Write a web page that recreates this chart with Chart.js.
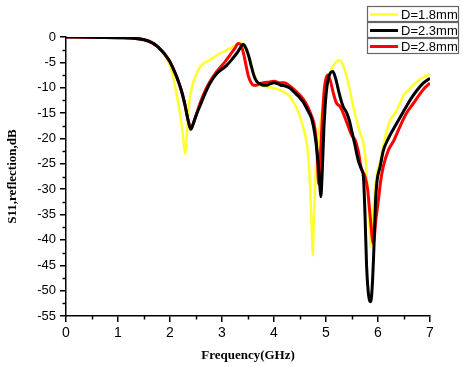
<!DOCTYPE html>
<html>
<head>
<meta charset="utf-8">
<script src="https://cdn.jsdelivr.net/npm/chart.js@4.4.1/dist/chart.umd.min.js"></script>
<style>
  html, body { margin: 0; padding: 0; background: #fff; }
  #wrap { width: 463px; height: 367px; position: relative; }
</style>
</head>
<body>
<div id="wrap"><canvas id="c" width="463" height="367"></canvas></div>
<script>
// ---------- DATA ----------
const seriesLabels = ["D=1.8mm", "D=2.3mm", "D=2.8mm"];

const freq18 = [0, 0.5, 1.0, 1.3, 1.5, 1.65, 1.77, 1.87, 1.97, 2.05, 2.13, 2.19, 2.24, 2.29, 2.33, 2.37, 2.42, 2.5, 2.58, 2.68, 2.77, 2.9, 3.09, 3.2, 3.3, 3.37, 3.43, 3.5, 3.56, 3.62, 3.7, 3.8, 3.92, 4.05, 4.18, 4.31, 4.4, 4.5, 4.58, 4.63, 4.67, 4.7, 4.73, 4.745, 4.765, 4.8, 4.85, 4.92, 5.0, 5.08, 5.17, 5.27, 5.36, 5.46, 5.53, 5.59, 5.65, 5.72, 5.77, 5.81, 5.84, 5.86, 5.89, 5.94, 6.0, 6.04, 6.1, 6.17, 6.23, 6.36, 6.49, 6.6, 6.7, 6.8, 6.9, 7.0];
const s11_18 = [0, -0.05, -0.15, -0.25, -0.55, -1.1, -1.9, -3.0, -4.9, -7.4, -11.5, -15, -18.5, -23, -18.5, -13, -10, -7.5, -5.9, -5, -4.5, -3.6, -2.6, -2, -1.4, -1.2, -1.8, -3.5, -5.5, -7.5, -9.2, -9.7, -9.9, -10.2, -10.8, -11.8, -13.3, -15.7, -18.5, -21, -25, -31, -39, -43, -36, -27, -20, -15, -10.2, -7, -5.2, -4.6, -6.5, -10.5, -14, -16.4, -18.8, -21, -25, -32, -38, -41.4, -38, -30, -26, -24.5, -21.5, -18.5, -16.5, -14.5, -11.5, -10.3, -9.3, -8.4, -7.8, -7.3];

const freq23 = [0, 0.5, 1.0, 1.3, 1.5, 1.65, 1.75, 1.85, 1.93, 2.0, 2.06, 2.13, 2.22, 2.29, 2.35, 2.40, 2.45, 2.5, 2.58, 2.68, 2.77, 2.9, 3.09, 3.2, 3.3, 3.41, 3.46, 3.52, 3.57, 3.62, 3.67, 3.73, 3.8, 3.87, 3.93, 4.0, 4.07, 4.13, 4.2, 4.31, 4.4, 4.48, 4.56, 4.65, 4.72, 4.76, 4.81, 4.85, 4.88, 4.9, 4.93, 4.96, 5.0, 5.05, 5.13, 5.18, 5.24, 5.29, 5.33, 5.4, 5.45, 5.49, 5.55, 5.62, 5.68, 5.72, 5.75, 5.78, 5.81, 5.84, 5.86, 5.89, 5.92, 5.95, 5.98, 6.04, 6.1, 6.2, 6.36, 6.5, 6.62, 6.75, 6.87, 7.0];
const s11_23 = [0, -0.05, -0.15, -0.25, -0.55, -1.1, -1.8, -2.8, -3.8, -4.9, -6.2, -7.9, -10.6, -13.5, -16.5, -18.2, -17, -15.5, -13.5, -11, -9.1, -7.2, -5.6, -4.3, -3, -1.5, -2.2, -4, -6, -7.8, -8.8, -9.2, -9.5, -9.5, -9.2, -9.0, -9.2, -9.5, -9.6, -10.1, -11, -11.8, -12.8, -14.5, -16, -17.7, -21, -25, -29, -31.5, -26, -18, -11.5, -8, -6.8, -8, -10.5, -12.5, -13.7, -15, -16.5, -18.3, -21, -24.3, -26, -27.6, -35, -45, -50, -52, -52.2, -49, -42, -33, -28.5, -25.6, -22.5, -20, -17, -14.5, -12.4, -10.5, -9.1, -8.1];

const freq28 = [0, 0.5, 1.0, 1.3, 1.5, 1.65, 1.75, 1.85, 1.93, 2.0, 2.06, 2.13, 2.22, 2.29, 2.35, 2.40, 2.45, 2.5, 2.58, 2.68, 2.77, 2.9, 3.05, 3.15, 3.25, 3.31, 3.36, 3.42, 3.47, 3.51, 3.56, 3.6, 3.67, 3.73, 3.8, 3.9, 4.0, 4.1, 4.2, 4.31, 4.4, 4.5, 4.6, 4.7, 4.79, 4.83, 4.86, 4.89, 4.93, 4.97, 5.03, 5.08, 5.14, 5.2, 5.27, 5.35, 5.43, 5.5, 5.56, 5.62, 5.68, 5.75, 5.8, 5.85, 5.91, 5.96, 6.01, 6.05, 6.1, 6.2, 6.3, 6.42, 6.55, 6.68, 6.8, 6.9, 7.0];
const s11_28 = [0, -0.05, -0.15, -0.25, -0.55, -1.1, -1.8, -2.8, -3.8, -4.9, -6.2, -7.9, -10.6, -13.5, -16.5, -18, -17, -15.5, -13, -10.5, -8.8, -6.8, -5, -3.6, -2.2, -1.3, -1.5, -3.5, -6, -7.8, -9, -9.5, -9.5, -9.2, -9.0, -8.9, -8.7, -9.0, -9.0, -9.7, -10.5, -11.5, -12.8, -15, -18.3, -23, -29, -24, -16, -10, -7.5, -8.5, -11, -13, -13.7, -15.5, -17.7, -19.5, -20.3, -22.5, -26, -27.5, -30, -35.4, -40.7, -36, -32, -28.5, -25.6, -22.3, -20.5, -17.7, -15, -13.1, -11.3, -10, -9.1];

const xTicks = [0, 1, 2, 3, 4, 5, 6, 7];
const yTicks = [0, -5, -10, -15, -20, -25, -30, -35, -40, -45, -50, -55];
const xTitle = "Frequency(GHz)";
const yTitle = "S11,reflection,dB";

// ---------- BUILD ----------
const toPts = (xs, ys) => xs.map((x, i) => ({ x: x, y: ys[i] }));
const colors = ["#ffff2e", "#000000", "#ff0000"];
const widths = [2.5, 3, 3];
const orders = [2, 0, 1];
const series = [toPts(freq18, s11_18), toPts(freq23, s11_23), toPts(freq28, s11_28)];

const datasets = series.map((pts, i) => ({
  label: seriesLabels[i],
  data: pts,
  borderColor: colors[i],
  backgroundColor: colors[i],
  borderWidth: widths[i],
  pointRadius: 0,
  cubicInterpolationMode: 'monotone',
  fill: false,
  order: orders[i]
}));

const minorTicks = {
  id: 'minorTicks',
  afterDraw(chart) {
    const ctx = chart.ctx;
    const xs = chart.scales.x, ys = chart.scales.y;
    ctx.save();
    ctx.strokeStyle = '#000';
    ctx.lineWidth = 1.5;
    for (let i = 0; i < xTicks.length - 1; i++) {
      const v = (xTicks[i] + xTicks[i + 1]) / 2;
      const px = Math.round(xs.getPixelForValue(v)) + 0.5;
      ctx.beginPath();
      ctx.moveTo(px, ys.bottom);
      ctx.lineTo(px, ys.bottom + 3.5);
      ctx.stroke();
    }
    for (let i = 0; i < yTicks.length - 1; i++) {
      const v = (yTicks[i] + yTicks[i + 1]) / 2;
      const py = Math.round(ys.getPixelForValue(v)) + 0.5;
      ctx.beginPath();
      ctx.moveTo(xs.left, py);
      ctx.lineTo(xs.left - 3.5, py);
      ctx.stroke();
    }
    ctx.restore();
  }
};

const boxLegend = {
  id: 'boxLegend',
  afterDraw(chart) {
    const ctx = chart.ctx;
    ctx.save();
    const x0 = 367, y0 = 6, w = 91, h = 16;
    chart.data.datasets.forEach((ds, i) => {
      const y = y0 + i * h;
      ctx.fillStyle = '#fff';
      ctx.fillRect(x0, y, w, h);
      ctx.strokeStyle = '#666';
      ctx.lineWidth = 1.2;
      ctx.strokeRect(x0 + 0.5, y + 0.5, w, h - 1);
      ctx.strokeStyle = ds.borderColor;
      ctx.lineWidth = ds.borderWidth;
      ctx.beginPath();
      ctx.moveTo(x0 + 3, y + h / 2 + 0.5);
      ctx.lineTo(x0 + 31, y + h / 2 + 0.5);
      ctx.stroke();
      ctx.fillStyle = '#000';
      ctx.font = '13px "Liberation Sans", Arial, sans-serif';
      ctx.textBaseline = 'middle';
      ctx.textAlign = 'left';
      ctx.fillText(ds.label, x0 + 34, y + h / 2 + 1);
    });
    ctx.restore();
  }
};

new Chart(document.getElementById('c'), {
  type: 'line',
  data: { datasets: datasets },
  options: {
    responsive: false,
    animation: false,
    devicePixelRatio: 1,
    layout: { padding: { top: 37, right: 33, left: 0, bottom: 0 } },
    plugins: { legend: { display: false }, tooltip: { enabled: false } },
    scales: {
      x: {
        type: 'linear',
        min: 0, max: 7,
        afterFit(s) { s.height = 51; },
        afterBuildTicks(s) { s.ticks = xTicks.map(v => ({ value: v })); },
        ticks: {
          color: '#000',
          font: { family: '"Liberation Sans", Arial, sans-serif', size: 14 },
          padding: 3,
          maxRotation: 0,
          autoSkip: false
        },
        grid: { drawOnChartArea: false, drawTicks: true, tickLength: 6, color: '#000', lineWidth: 1.5 },
        border: { display: true, color: '#000', width: 1.5 },
        title: {
          display: true, text: xTitle, color: '#000',
          font: { family: '"Liberation Serif", "Times New Roman", serif', size: 13, weight: 'bold' },
          padding: { top: 0, bottom: 4 }
        }
      },
      y: {
        type: 'linear',
        min: -55, max: 0,
        afterFit(s) { s.width = 66; },
        afterBuildTicks(s) { s.ticks = yTicks.map(v => ({ value: v })); },
        ticks: {
          color: '#000',
          font: { family: '"Liberation Sans", Arial, sans-serif', size: 13 },
          padding: 4,
          autoSkip: false
        },
        grid: { drawOnChartArea: false, drawTicks: true, tickLength: 6, color: '#000', lineWidth: 1.5 },
        border: { display: true, color: '#000', width: 1.5 },
        title: {
          display: true, text: yTitle, color: '#000',
          font: { family: '"Liberation Serif", "Times New Roman", serif', size: 13, weight: 'bold' },
          padding: { top: 5, bottom: 0 }
        }
      }
    }
  },
  plugins: [minorTicks, boxLegend]
});
</script>
</body>
</html>
